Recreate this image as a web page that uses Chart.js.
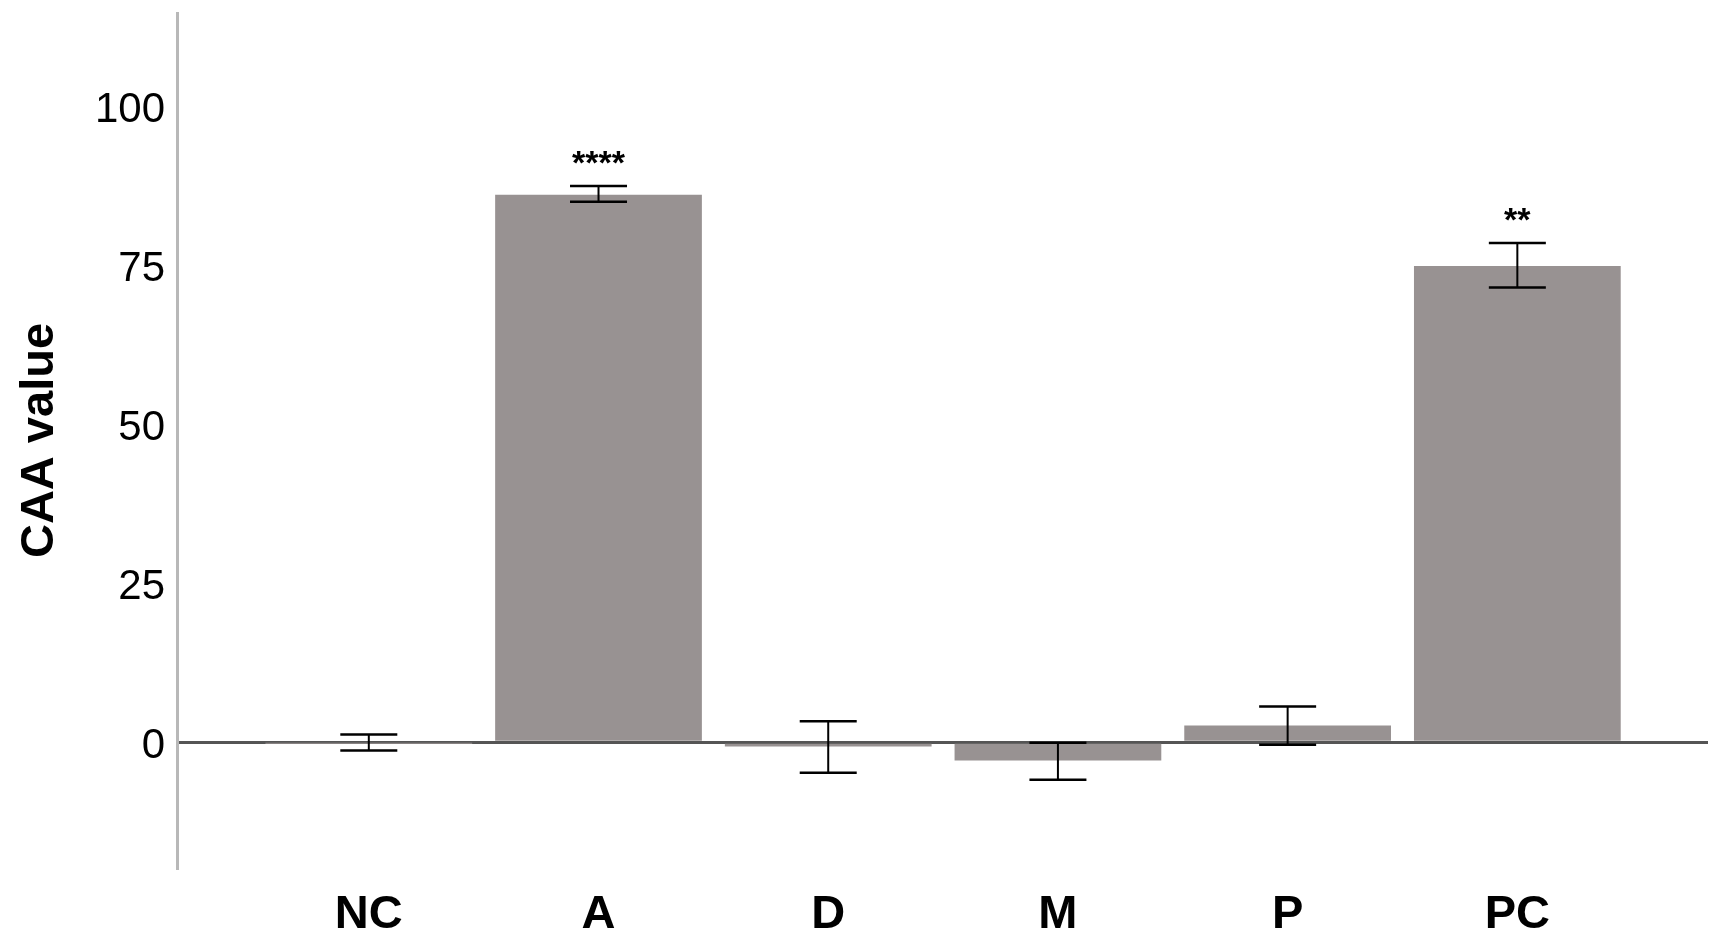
<!DOCTYPE html>
<html>
<head>
<meta charset="utf-8">
<script src="https://cdn.jsdelivr.net/npm/chart.js@4.4.1/dist/chart.umd.min.js"></script>
<style>
html,body{margin:0;padding:0;background:#fff;}
#wrap{width:1728px;height:947px;position:relative;}
</style>
</head>
<body>
<div id="wrap"><canvas id="c"></canvas></div>
<script>
const categories = ['NC', 'A', 'D', 'M', 'P', 'PC'];
const means      = [-0.1, 86.1, -0.7, -2.9, 2.6, 74.9];
const errLow     = [-1.3, 85.0, -4.8, -5.9, -0.4, 71.5];
const errHigh    = [1.2, 87.5, 3.3, -0.1, 5.6, 78.5];
const significance = ['', '****', '', '', '', '**'];
const yTicks = [0, 25, 50, 75, 100];
const yTitle = 'CAA value';

const FONT = "'Liberation Sans', Arial, sans-serif";

const errorBarPlugin = {
  id: 'errorBars',
  afterDatasetsDraw(chart) {
    const ctx = chart.ctx;
    const meta = chart.getDatasetMeta(0);
    const y = chart.scales.y;
    ctx.save();
    ctx.strokeStyle = '#000';
    ctx.fillStyle = '#000';
    meta.data.forEach((bar, i) => {
      const x = bar.x;
      const yHi = y.getPixelForValue(errHigh[i]);
      const yLo = y.getPixelForValue(errLow[i]);
      const half = 28.5;
      ctx.lineWidth = 2;
      ctx.beginPath();
      ctx.moveTo(x, yHi); ctx.lineTo(x, yLo);
      ctx.stroke();
      ctx.lineWidth = 2.5;
      ctx.beginPath();
      ctx.moveTo(x - half, yHi); ctx.lineTo(x + half, yHi);
      ctx.moveTo(x - half, yLo); ctx.lineTo(x + half, yLo);
      ctx.stroke();
      if (significance[i]) {
        ctx.font = 'bold 34px ' + FONT;
        ctx.textAlign = 'center';
        ctx.textBaseline = 'alphabetic';
        ctx.fillText(significance[i], x, yHi - 12);
      }
    });
    ctx.restore();
  }
};

new Chart(document.getElementById('c'), {
  type: 'bar',
  data: {
    datasets: [{
      data: means.map((v, i) => ({ x: i, y: v })),
      backgroundColor: '#989292',
      borderWidth: 0,
      barPercentage: 0.9,
      categoryPercentage: 1.0
    }]
  },
  options: {
    responsive: true,
    maintainAspectRatio: false,
    animation: false,
    layout: { padding: { top: 13, right: 20, left: 0, bottom: 0 } },
    plugins: { legend: { display: false }, tooltip: { enabled: false } },
    scales: {
      x: {
        type: 'linear',
        min: -0.835,
        max: 5.83,
        offset: false,
        grid: { display: false, drawTicks: false },
        border: { display: false },
        afterBuildTicks(scale) { scale.ticks = categories.map((c, i) => ({ value: i })); },
        afterFit(scale) { scale.height = 79; scale.paddingLeft = 0; scale.paddingRight = 0; },
        ticks: {
          autoSkip: false,
          maxRotation: 0,
          padding: 19,
          color: '#000',
          font: { family: FONT, size: 47, weight: 'bold' },
          callback: (v) => categories[v]
        }
      },
      y: {
        type: 'linear',
        min: -19.8,
        max: 114.7,
        z: 1,
        afterBuildTicks(scale) { scale.ticks = yTicks.map(v => ({ value: v })); },
        afterFit(scale) { scale.width = 177; scale.paddingTop = 0; scale.paddingBottom = 0; },
        grid: {
          drawTicks: false,
          color: (c) => (c.tick && c.tick.value === 0) ? '#555555' : 'rgba(0,0,0,0)',
          lineWidth: 3
        },
        border: { display: true, color: '#b8b8b8', width: 3 },
        ticks: {
          padding: 12,
          labelOffset: 4,
          color: '#000',
          font: { family: FONT, size: 42 }
        },
        title: {
          display: true,
          text: yTitle,
          color: '#000',
          font: { family: FONT, size: 47, weight: 'bold' },
          padding: { top: 12, bottom: 0 }
        }
      }
    }
  },
  plugins: [errorBarPlugin]
});
</script>
</body>
</html>
